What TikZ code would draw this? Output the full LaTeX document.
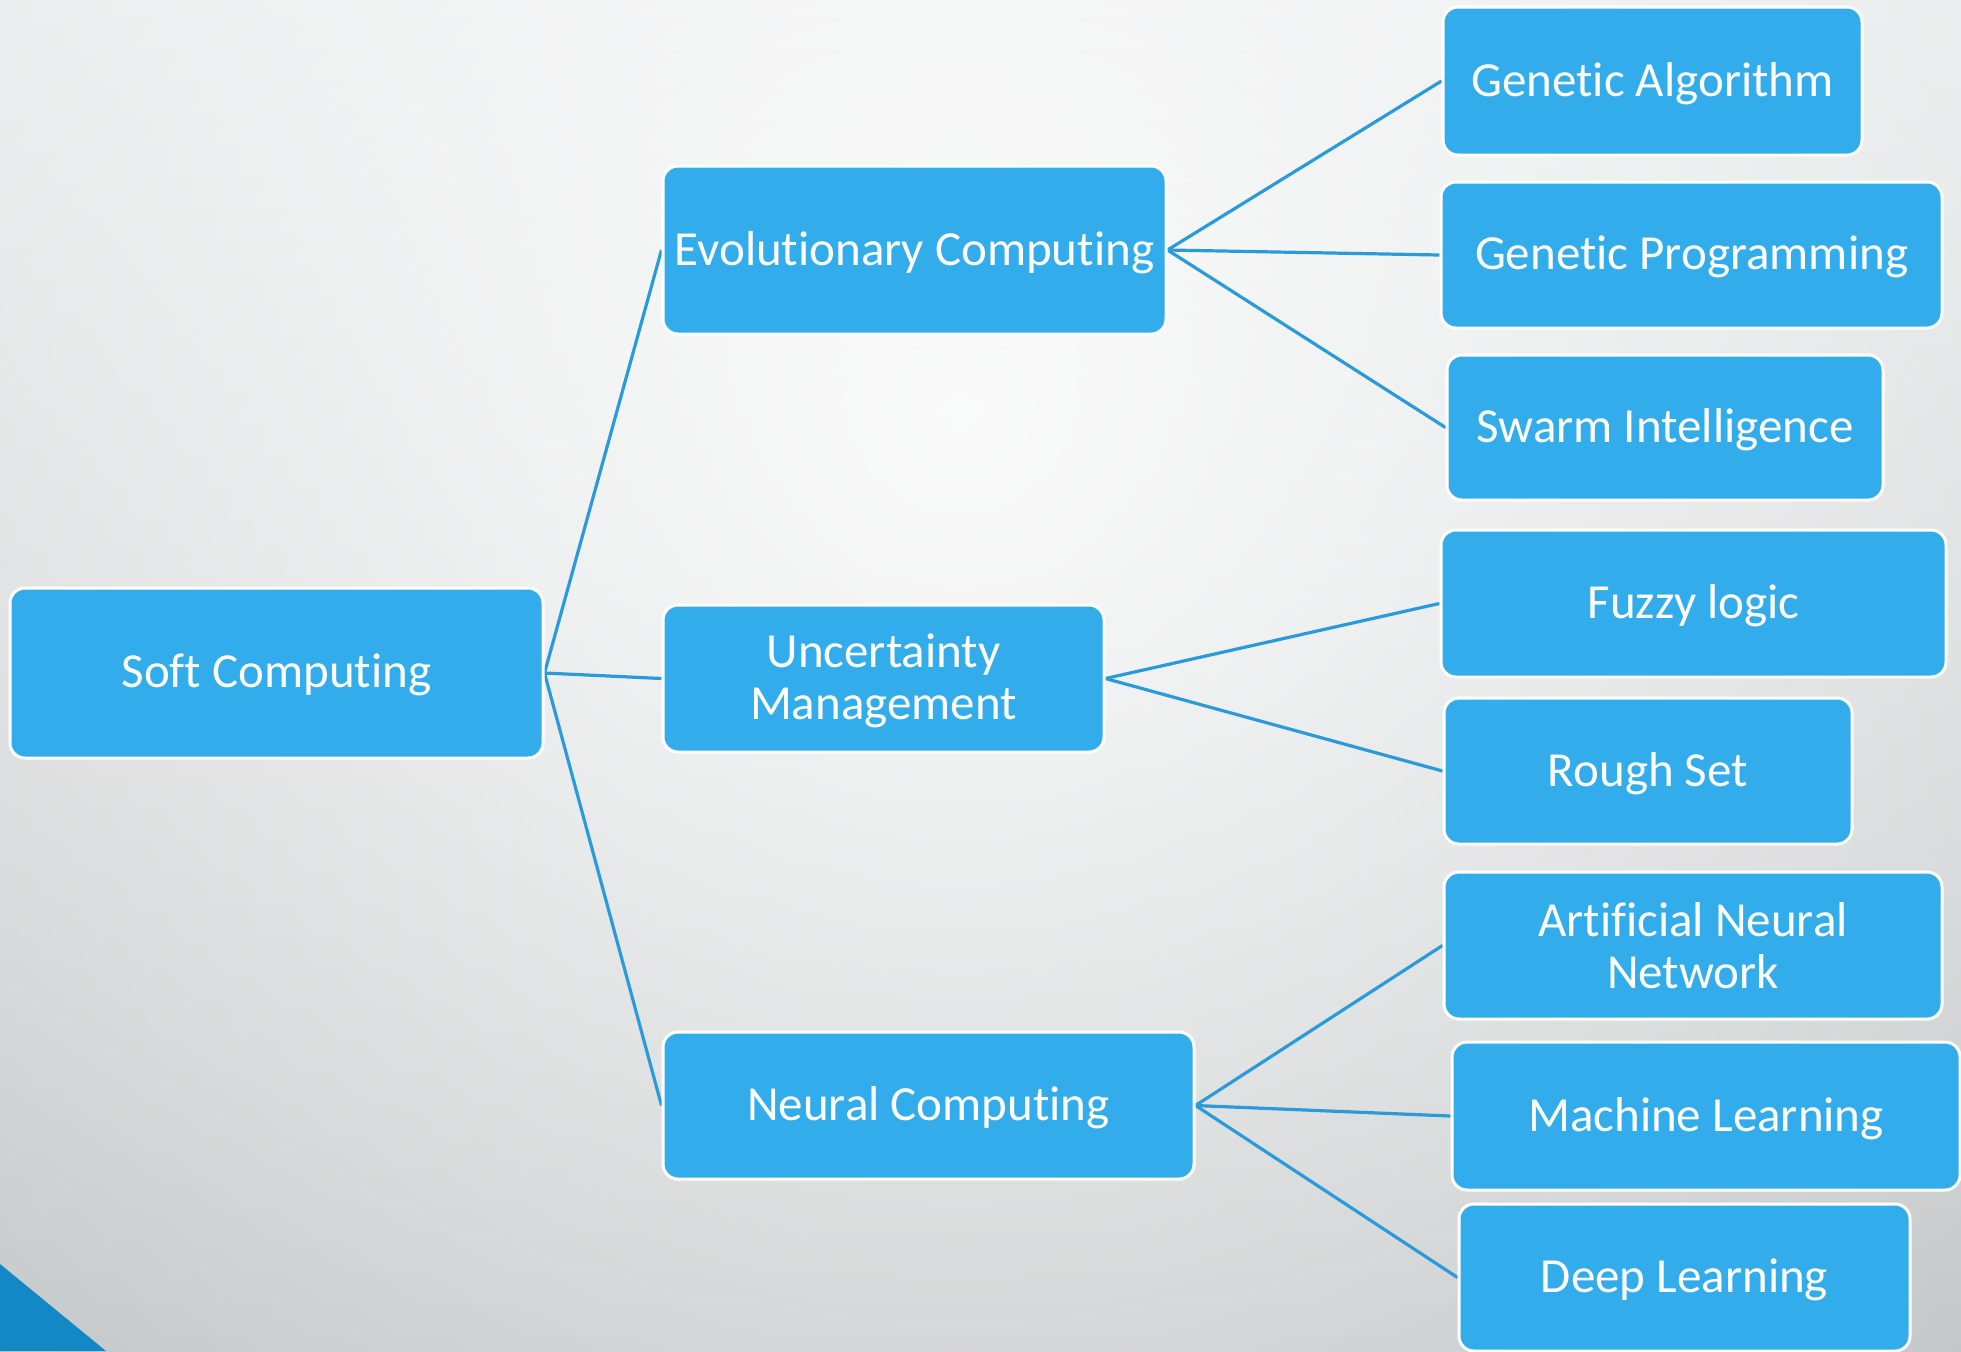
\documentclass[tikz,border=0pt]{standalone}
\usepackage{fontspec}
\setmainfont{Carlito}[Ligatures=NoCommon]
\usetikzlibrary{fadings}
\definecolor{boxblue}{HTML}{32ACEA}
\definecolor{linkblue}{HTML}{2A9BD8}
\definecolor{cornerblue}{HTML}{1388C6}
\definecolor{bgtop}{HTML}{E3E5E6}
\definecolor{bgmid}{HTML}{D6D9DA}
\definecolor{bgbot}{HTML}{B8BCBD}
\pgfdeclarelayer{bg}
\pgfdeclarelayer{links}
\pgfsetlayers{bg,links,main}
\tikzfading[name=glow, inner color=transparent!12, outer color=transparent!100]
\begin{document}
\begin{tikzpicture}[x=0.5pt,y=-0.5pt,
  box/.style={draw=white, line width=1.5pt, fill=boxblue, text=white,
    rounded corners=7.5pt, align=center, inner sep=0pt, text depth=2pt,
    font=\fontsize{24.5}{26}\selectfont},
  conn/.style={draw=linkblue, line width=1.6pt}]
\useasboundingbox (0,0) rectangle (1961,1351);
\begin{pgfonlayer}{bg}
  \shade[top color=bgtop, middle color=bgmid, bottom color=bgbot] (0,0) rectangle (1961,1351);
  \begin{scope}
    \clip (0,0) rectangle (1961,1351);
    \fill[white, path fading=glow] (960,420) circle (1700);
  \end{scope}
  \fill[cornerblue] (0,1264) -- (106,1351) -- (0,1351) -- cycle;
\end{pgfonlayer}

\node[box, minimum width=266.5pt, minimum height=85pt] (soft) at (276.5,673) {Soft Computing};
\node[box, minimum width=251.5pt, minimum height=84pt] (evo) at (914.5,250) {Evolutionary Computing};
\node[box, minimum width=220.5pt, minimum height=73.5pt] (unc) at (883.5,678.5) {Uncertainty\\Management};
\node[box, minimum width=265.5pt, minimum height=73.5pt] (neu) at (928.5,1105.5) {Neural Computing};

\node[box, minimum width=209.5pt, minimum height=74pt] (ga) at (1652.5,81) {Genetic Algorithm};
\node[box, minimum width=250.5pt, minimum height=73pt] (gp) at (1691.5,255) {Genetic Programming};
\node[box, minimum width=218pt, minimum height=72.5pt] (si) at (1665,427.5) {Swarm Intelligence};
\node[box, minimum width=252.5pt, minimum height=73.5pt] (fl) at (1693.5,603.5) {Fuzzy logic};
\node[box, minimum width=204pt, minimum height=73pt] (rs) at (1648,771) {Rough Set};
\node[box, minimum width=249pt, minimum height=73.5pt, text depth=0pt] (ann) at (1693,945.5) {Artificial Neural\\Network};
\node[box, minimum width=254pt, minimum height=74pt] (ml) at (1706,1116) {Machine Learning};
\node[box, minimum width=225.5pt, minimum height=73.5pt] (dl) at (1684.5,1277.5) {Deep Learning};

\begin{pgfonlayer}{links}
  \draw[conn] (soft.east) -- (evo.west);
  \draw[conn] (soft.east) -- (unc.west);
  \draw[conn] (soft.east) -- (neu.west);
  \draw[conn] (evo.east) -- (ga.west);
  \draw[conn] (evo.east) -- (gp.west);
  \draw[conn] (evo.east) -- (si.west);
  \draw[conn] (unc.east) -- (fl.west);
  \draw[conn] (unc.east) -- (rs.west);
  \draw[conn] (neu.east) -- (ann.west);
  \draw[conn] (neu.east) -- (ml.west);
  \draw[conn] (neu.east) -- (dl.west);
\end{pgfonlayer}
\end{tikzpicture}
\end{document}
